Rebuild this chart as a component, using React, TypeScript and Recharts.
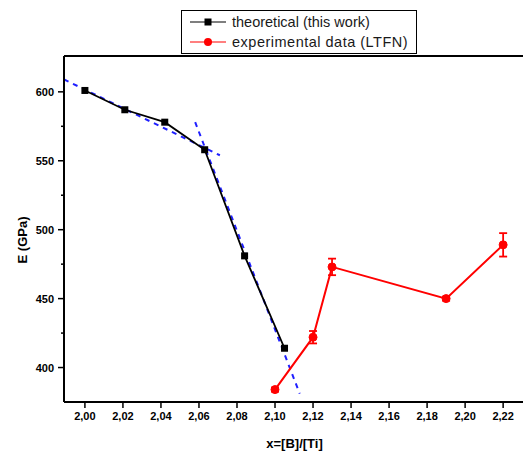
import { ComposedChart, ErrorBar, Legend, Line, XAxis, YAxis } from "recharts";

// theoretical E (this work) vs x = [B]/[Ti]
const theoX = [2.0, 2.021, 2.042, 2.063, 2.084, 2.105];
const theoE = [601, 587, 578, 558, 481, 414];

// experimental data (LTFN)
const expX = [2.1, 2.12, 2.13, 2.19, 2.22];
const expE = [384, 422, 473, 450, 489];
const expErr = [1.5, 4.5, 6, 1.5, 8.5];

// dashed blue tangent lines
const fit1X = [1.989, 2.071];
const fit1E = [609, 554];
const fit2X = [2.058, 2.113];
const fit2E = [578, 381];

const xTicks = [2.0, 2.02, 2.04, 2.06, 2.08, 2.1, 2.12, 2.14, 2.16, 2.18, 2.2, 2.22];
const yTicks = [400, 425, 450, 475, 500, 525, 550, 575, 600];
const topTicks = [1, 2, 3, 4, 5, 6, 7, 8, 9];

const theo = theoX.map((x, i) => ({ x, e: theoE[i] }));
const exp = expX.map((x, i) => ({ x, e: expE[i], err: expErr[i] }));
const fit1 = fit1X.map((x, i) => ({ x, e: fit1E[i] }));
const fit2 = fit2X.map((x, i) => ({ x, e: fit2E[i] }));

const FONT = "Arial, 'Liberation Sans', sans-serif";

function LeftTick({ x, y, payload }: any) {
  const major = payload.value % 50 === 0;
  return (
    <g>
      <line x1={x - (major ? 6 : 3)} x2={x} y1={y} y2={y} stroke="#000" strokeWidth={1.5} />
      {major && (
        <text x={x - 10} y={y} dy={4} textAnchor="end" fontSize={11} fontWeight="bold" fontFamily={FONT} fill="#000">
          {payload.value}
        </text>
      )}
    </g>
  );
}

function Square(p: any) {
  return <rect key={`sq-${p.index}`} x={p.cx - 3.5} y={p.cy - 3.5} width={7} height={7} fill="#000" />;
}

function LegendBox() {
  const row = { display: "flex", alignItems: "center", height: 20 } as const;
  return (
    <div
      style={{
        border: "1.5px solid #000",
        background: "#fff",
        padding: "1px 0 1px 8px",
        fontFamily: FONT,
        fontSize: 14.5,
        color: "#1a1a1a",
        boxSizing: "border-box",
        width: 236,
      }}
    >
      <div style={row}>
        <svg width={38} height={12} style={{ marginRight: 4 }}>
          <line x1={0} x2={36} y1={6} y2={6} stroke="#000" strokeWidth={1.2} />
          <rect x={14.5} y={2.5} width={7} height={7} fill="#000" />
        </svg>
        theoretical (this work)
      </div>
      <div style={row}>
        <svg width={38} height={12} style={{ marginRight: 4 }}>
          <line x1={0} x2={36} y1={6} y2={6} stroke="#f00" strokeWidth={1.2} />
          <circle cx={18} cy={6} r={4} fill="#f00" />
        </svg>
        <span style={{ letterSpacing: 0.5 }}>experimental data (LTFN)</span>
      </div>
    </div>
  );
}

export default function App() {
  return (
    <div style={{ position: "absolute", left: 0, top: 0, width: 523, height: 453, overflow: "hidden", background: "#fff" }}>
      <ComposedChart width={525} height={453} margin={{ top: 56, right: 0, bottom: 0, left: 0 }}>
        <XAxis
          dataKey="x"
          type="number"
          domain={[1.989, 2.2315]}
          ticks={xTicks}
          height={51}
          tickSize={6}
          tickMargin={4}
          axisLine={{ stroke: "#000", strokeWidth: 2 }}
          tickLine={{ stroke: "#000", strokeWidth: 1.5 }}
          tick={{ fill: "#000", fontSize: 11, fontWeight: "bold", fontFamily: FONT }}
          tickFormatter={(v: number) => v.toFixed(2).replace(".", ",")}
          label={{
            value: "x=[B]/[Ti]",
            position: "insideBottom",
            offset: 5,
            style: { fill: "#000", fontSize: 13, fontWeight: "bold", fontFamily: FONT },
          }}
          allowDataOverflow
        />
        <XAxis
          xAxisId="top"
          orientation="top"
          type="number"
          domain={[0, 10]}
          ticks={topTicks}
          height={1}
          mirror
          tickSize={5}
          tick={false}
          axisLine={{ stroke: "#000", strokeWidth: 2 }}
          tickLine={{ stroke: "#000", strokeWidth: 1.5 }}
        />
        <YAxis
          type="number"
          domain={[375, 626]}
          ticks={yTicks}
          width={64}
          tickSize={0}
          tickMargin={0}
          tickLine={false}
          axisLine={{ stroke: "#000", strokeWidth: 2 }}
          tick={<LeftTick />}
          label={{
            content: ({ viewBox }: any) => {
              const cx = viewBox.x + 22;
              const cy = viewBox.y + viewBox.height / 2 + 11;
              return (
                <text
                  x={cx}
                  y={cy}
                  transform={`rotate(-90 ${cx} ${cy})`}
                  textAnchor="middle"
                  dominantBaseline="central"
                  fontSize={13}
                  fontWeight="bold"
                  fontFamily={FONT}
                  fill="#000"
                >
                  E (GPa)
                </text>
              );
            },
          }}
          allowDataOverflow
        />
        <YAxis
          yAxisId="right"
          orientation="right"
          type="number"
          domain={[375, 626]}
          ticks={yTicks}
          width={1}
          mirror
          tickSize={4}
          tick={false}
          axisLine={{ stroke: "#000", strokeWidth: 2 }}
          tickLine={{ stroke: "#000", strokeWidth: 1.5 }}
        />
        <Legend
          layout="vertical"
          align="center"
          verticalAlign="middle"
          wrapperStyle={{ left: 181, top: 10, width: 236 }}
          content={() => <LegendBox />}
        />
        <Line
          data={fit1}
          dataKey="e"
          type="linear"
          stroke="#1f1fff"
          strokeWidth={2}
          strokeDasharray="5 5"
          dot={false}
          legendType="none"
          isAnimationActive={false}
        />
        <Line
          data={fit2}
          dataKey="e"
          type="linear"
          stroke="#1f1fff"
          strokeWidth={2}
          strokeDasharray="5 5"
          dot={false}
          legendType="none"
          isAnimationActive={false}
        />
        <Line
          data={theo}
          dataKey="e"
          name="theoretical (this work)"
          type="linear"
          stroke="#000"
          strokeWidth={1.8}
          dot={Square}
          activeDot={false}
          isAnimationActive={false}
        />
        <Line
          data={exp}
          dataKey="e"
          name="experimental data (LTFN)"
          type="linear"
          stroke="#f00"
          strokeWidth={2}
          dot={{ r: 4, fill: "#f00", stroke: "#f00", strokeWidth: 1 }}
          activeDot={false}
          isAnimationActive={false}
        >
          <ErrorBar dataKey="err" direction="y" width={4} stroke="#f00" strokeWidth={1.8} isAnimationActive={false} />
        </Line>
      </ComposedChart>
    </div>
  );
}
